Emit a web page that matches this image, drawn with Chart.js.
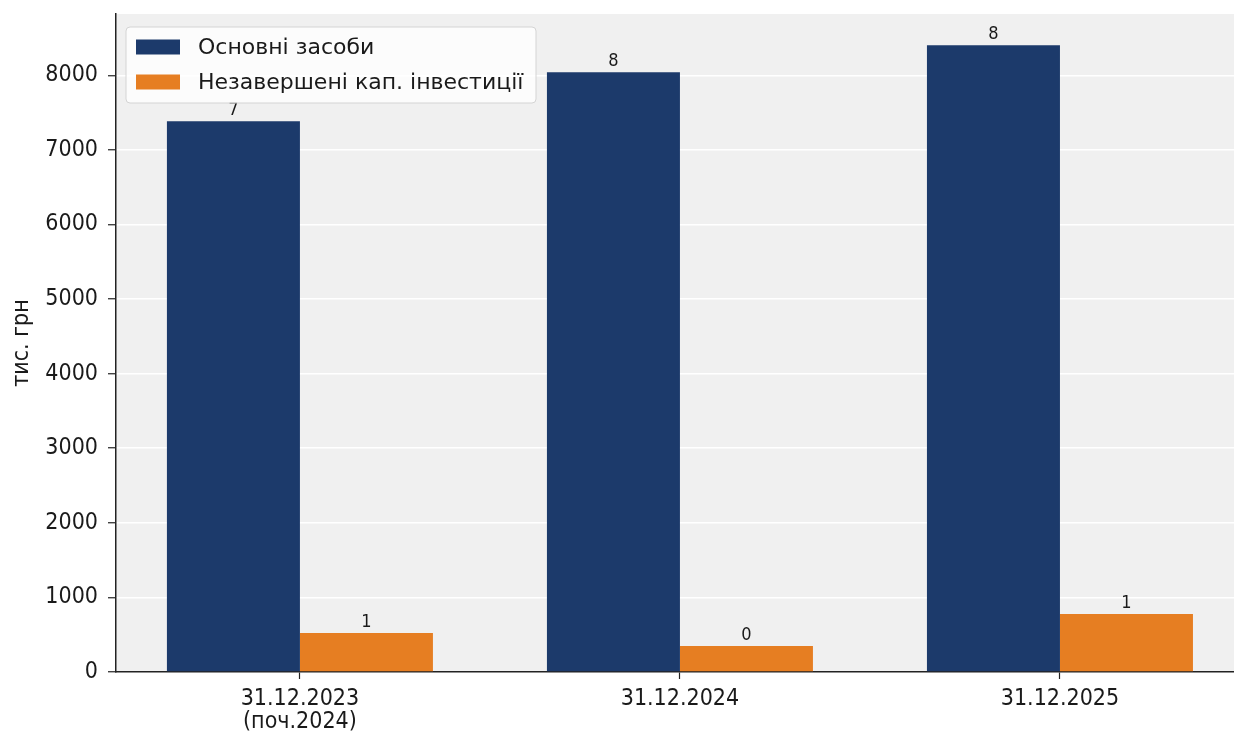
<!DOCTYPE html>
<html>
<head>
<meta charset="utf-8">
<script src="https://cdn.jsdelivr.net/npm/chart.js@4.4.1/dist/chart.umd.min.js"></script>
<style>
  html, body { margin: 0; padding: 0; background: #ffffff; overflow: hidden; }
  #wrap { width: 1234px; height: 737px; }
</style>
</head>
<body>
<div id="wrap"><canvas id="c" width="1234" height="737"></canvas></div>
<script>
// Reporting dates (multi-line label for the opening balance)
const categories = [["31.12.2023", "(поч.2024)"], "31.12.2024", "31.12.2025"];
const seriesNames = ["Основні засоби", "Незавершені кап. інвестиції"];
// Values, thousand UAH
const fixedAssets = [7383, 8040, 8402];
const unfinishedCapex = [523, 348, 777];
const yTicks = [0, 1000, 2000, 3000, 4000, 5000, 6000, 7000, 8000];

const colors = ["#1c3a6b", "#e67e22"];
const FONT = "'DejaVu Sans Condensed', 'DejaVu Sans', sans-serif";
const LEGEND_FONT = "'DejaVu Sans', sans-serif";

const toPoints = arr => arr.map((v, i) => ({ x: i, y: v }));
const yMax = Math.max(...fixedAssets, ...unfinishedCapex) * 1.05;

// Gray plot background
const plotBg = {
  id: "plotBg",
  beforeDraw(chart) {
    const { ctx, chartArea: a } = chart;
    ctx.save();
    ctx.fillStyle = "#f0f0f0";
    ctx.fillRect(a.left, a.top, a.right - a.left, a.bottom - a.top);
    ctx.restore();
  }
};

// Rounded value (thousands) above each bar
const valueLabels = {
  id: "valueLabels",
  afterDatasetsDraw(chart) {
    const { ctx } = chart;
    ctx.save();
    ctx.font = "18px " + FONT;
    ctx.fillStyle = "#1a1a1a";
    ctx.textAlign = "center";
    ctx.textBaseline = "alphabetic";
    chart.data.datasets.forEach((ds, di) => {
      chart.getDatasetMeta(di).data.forEach((bar, i) => {
        const v = ds.data[i].y;
        ctx.fillText(String(Math.round(v / 1000)), bar.x, bar.y - 6);
      });
    });
    ctx.restore();
  }
};

// Framed legend in the upper-left corner of the plot
const boxLegend = {
  id: "boxLegend",
  afterDraw(chart) {
    const { ctx, chartArea: a } = chart;
    const x = a.left + 10, y = a.top + 13, w = 410, h = 76, r = 4;
    ctx.save();
    ctx.beginPath();
    ctx.roundRect(x, y, w, h, r);
    ctx.fillStyle = "rgba(255,255,255,0.8)";
    ctx.fill();
    ctx.strokeStyle = "#d4d4d4";
    ctx.lineWidth = 1;
    ctx.stroke();
    ctx.font = "22px " + LEGEND_FONT;
    ctx.textBaseline = "middle";
    ctx.textAlign = "left";
    chart.data.datasets.forEach((ds, i) => {
      const cy = y + 20 + i * 35;
      ctx.fillStyle = ds.backgroundColor;
      ctx.fillRect(x + 10, cy - 7.5, 44, 15);
      ctx.fillStyle = "#1a1a1a";
      ctx.fillText(ds.label, x + 72, cy + 1);
    });
    ctx.restore();
  }
};

new Chart(document.getElementById("c"), {
  type: "bar",
  data: {
    datasets: [
      { label: seriesNames[0], data: toPoints(fixedAssets), backgroundColor: colors[0] },
      { label: seriesNames[1], data: toPoints(unfinishedCapex), backgroundColor: colors[1] }
    ]
  },
  options: {
    responsive: false,
    devicePixelRatio: 1,
    animation: false,
    layout: { padding: { top: 14, left: 0, right: 0, bottom: 0 } },
    datasets: { bar: { categoryPercentage: 0.7, barPercentage: 1.0, borderWidth: 0 } },
    plugins: { legend: { display: false }, tooltip: { enabled: false } },
    scales: {
      x: {
        type: "linear",
        z: 1,
        offset: false,
        min: -0.484,
        max: 2.458,
        afterBuildTicks(scale) {
          scale.ticks = categories.map((_, i) => ({ value: i }));
        },
        afterFit(scale) {
          scale.height = 65;
          scale.paddingLeft = 0;
          scale.paddingRight = 0;
        },
        grid: { offset: false, drawOnChartArea: false, tickLength: 7, tickColor: "#222", tickWidth: 1.2 },
        border: { color: "#222", width: 1.5 },
        ticks: {
          padding: 9,
          color: "#1a1a1a",
          font: { family: FONT, size: 23, lineHeight: "23px" },
          maxRotation: 0,
          autoSkip: false,
          callback: v => categories[v]
        }
      },
      y: {
        z: 1,
        min: 0,
        max: yMax,
        afterBuildTicks(scale) {
          scale.ticks = yTicks.map(v => ({ value: v }));
        },
        afterFit(scale) {
          scale.width = 116;
          scale.paddingTop = 0;
          scale.paddingBottom = 0;
        },
        grid: {
          color: ctx => (ctx.tick && ctx.tick.value === 0 ? "rgba(0,0,0,0)" : "#ffffff"),
          lineWidth: 1.5,
          tickLength: 8,
          tickColor: "#222",
          tickWidth: 1.2
        },
        border: { color: "#222", width: 1.5 },
        ticks: {
          padding: 10,
          color: "#1a1a1a",
          font: { family: FONT, size: 23 },
          callback: v => String(v)
        },
        title: {
          display: true,
          text: "тис. грн",
          color: "#1a1a1a",
          font: { family: FONT, size: 23 },
          padding: { top: 8, bottom: 0 }
        }
      }
    }
  },
  plugins: [plotBg, valueLabels, boxLegend]
});
</script>
</body>
</html>
